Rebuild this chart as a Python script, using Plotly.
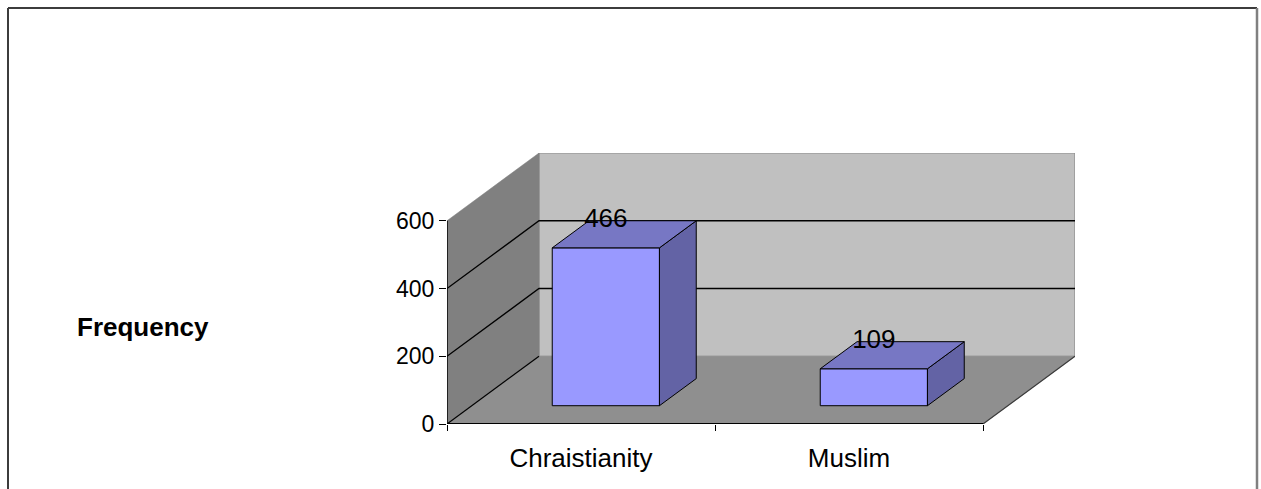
import plotly.graph_objects as go

# Frequency by religion
categories = ["Chraistianity", "Muslim"]
frequency = [466, 109]
y_ticks = [0, 200, 400, 600]

# Oblique projection of the 3-D box: depth fraction d (0 = front, 1 = back)
DX = 0.3433          # horizontal shift of the back plane, in category units
DY = 200             # vertical shift of the back plane, in value units
D_FRONT, D_BACK = 0.27, 0.67
HALF = 0.2
X0, X1 = -0.5, len(categories) - 0.5
VMAX = max(y_ticks)


def proj(x, v, d):
    return x + d * DX, v + d * DY


def poly(points, fill, line_color, line_width):
    xs, ys = zip(*(proj(*p) for p in points))
    return go.Scatter(x=list(xs) + [xs[0]], y=list(ys) + [ys[0]], mode="lines",
                      fill="toself", fillcolor=fill,
                      line=dict(color=line_color, width=line_width),
                      hoverinfo="skip", showlegend=False)


def seg(points, color, width):
    xs, ys = zip(*(proj(*p) for p in points))
    return go.Scatter(x=xs, y=ys, mode="lines", line=dict(color=color, width=width),
                      hoverinfo="skip", showlegend=False)


fig = go.Figure()

# walls and floor
fig.add_trace(poly([(X0, 0, 1), (X1, 0, 1), (X1, VMAX, 1), (X0, VMAX, 1)], "#c0c0c0", "#8c8c8c", 1.2))
fig.add_trace(poly([(X0, 0, 0), (X0, 0, 1), (X0, VMAX, 1), (X0, VMAX, 0)], "#808080", "#808080", 0.5))
fig.add_trace(poly([(X0, 0, 0), (X1, 0, 0), (X1, 0, 1), (X0, 0, 1)], "#8f8f8f", "#8f8f8f", 0.5))

# gridlines on side and back walls
for v in y_ticks[1:-1]:
    fig.add_trace(seg([(X0, v, 0), (X0, v, 1), (X1, v, 1)], "#000000", 1.3))
fig.add_trace(seg([(X0, 0, 0), (X0, 0, 1)], "#000000", 1.2))
fig.add_trace(seg([(X1, 0, 0), (X1, 0, 1)], "#3a3a3a", 1.2))

# axis lines
fig.add_trace(seg([(X0, 0, 0), (X1, 0, 0)], "#000000", 2))
fig.add_trace(seg([(X0, 0, 0), (X0, VMAX, 0)], "#000000", 1.5))

# bars
for i, v in enumerate(frequency):
    xl, xr = i - HALF, i + HALF
    fig.add_trace(poly([(xl, 0, D_FRONT), (xr, 0, D_FRONT), (xr, v, D_FRONT), (xl, v, D_FRONT)],
                       "#9999ff", "#000000", 1))
    fig.add_trace(poly([(xr, 0, D_FRONT), (xr, 0, D_BACK), (xr, v, D_BACK), (xr, v, D_FRONT)],
                       "#6363a5", "#000000", 1))
    fig.add_trace(poly([(xl, v, D_FRONT), (xr, v, D_FRONT), (xr, v, D_BACK), (xl, v, D_BACK)],
                       "#7777c4", "#000000", 1))

# value labels
fig.add_trace(go.Scatter(
    x=[i + D_FRONT * DX for i in range(len(frequency))],
    y=[v + D_BACK * DY for v in frequency],
    text=[str(v) for v in frequency], mode="text", textposition="middle center",
    textfont=dict(family="Arial, Liberation Sans", size=26, color="#000000"),
    hoverinfo="skip", showlegend=False))

L, R, T, B = 447, 186, 153, 65
W, H = 1261, 489
pw, ph = W - L - R, H - T - B


def px(xp):
    return (xp - L) / pw


def py(yp):
    return (H - B - yp) / ph


fig.update_layout(
    width=W, height=H,
    margin=dict(l=L, r=R, t=T, b=B, pad=0),
    paper_bgcolor="#ffffff", plot_bgcolor="#ffffff",
    font=dict(family="Arial, Liberation Sans", color="#000000"),
    xaxis=dict(range=[X0, X1 + DX], showgrid=False, zeroline=False, showline=False,
               tickmode="array", tickvals=list(range(len(categories))), ticktext=categories,
               ticks="", tickfont=dict(size=26), ticklabelstandoff=16,
               minor=dict(tickmode="array", tickvals=[X0 + k for k in range(len(categories) + 1)],
                          ticks="outside", ticklen=6, tickcolor="#000000", tickwidth=1, showgrid=False),
               fixedrange=True),
    yaxis=dict(range=[0, VMAX + DY], showgrid=False, zeroline=False, showline=False,
               tickmode="array", tickvals=y_ticks, ticks="outside", ticklen=7,
               tickcolor="#000000", tickwidth=1, tickfont=dict(size=23), fixedrange=True),
    annotations=[dict(text="<b>Frequency</b>", xref="paper", yref="paper",
                      x=px(75), y=py(327), xanchor="left", yanchor="middle",
                      showarrow=False, font=dict(size=26, color="#000000"))],
    shapes=[
        dict(type="line", xref="paper", yref="paper", x0=px(8), x1=px(1257), y0=py(8), y1=py(8),
             line=dict(color="#3c3c3c", width=2)),
        dict(type="line", xref="paper", yref="paper", x0=px(8), x1=px(8), y0=py(8), y1=py(495),
             line=dict(color="#3c3c3c", width=2)),
        dict(type="line", xref="paper", yref="paper", x0=px(1257), x1=px(1257), y0=py(8), y1=py(495),
             line=dict(color="#808080", width=2.5)),
    ],
)

fig.write_html("out.html")
